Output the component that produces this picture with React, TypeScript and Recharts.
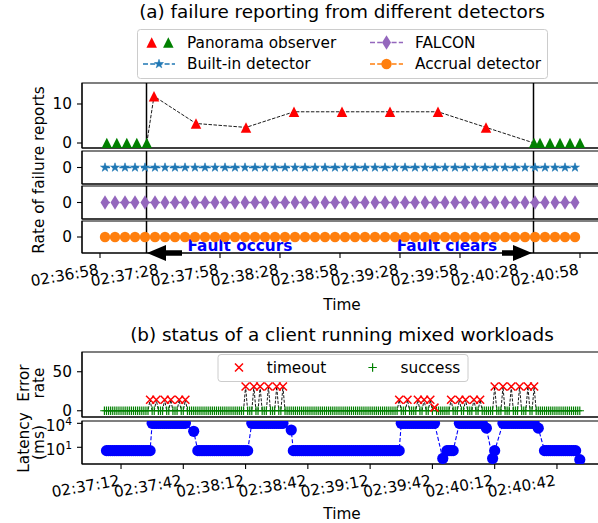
import React from 'react';
import { ComposedChart, Scatter, Line, XAxis, YAxis, ReferenceLine, ReferenceArea } from 'recharts';

const FONT = '"DejaVu Sans", Verdana, sans-serif';
const FS = 15.3;
const CHART_W = 602;
const Y_AXIS_W = 82;

const RED = '#ff0000';
const GREEN = '#008000';
const TAB_BLUE = '#1f77b4';
const TAB_PURPLE = '#9467bd';
const TAB_ORANGE = '#ff7f0e';
const BLUE = '#0000ff';

// ================= Panel (a): seconds after 02:36:58 =================
const aTickSec = [0, 30, 60, 90, 120, 150, 180, 210, 240];
const aTickLabels = ['02:36:58', '02:37:28', '02:37:58', '02:38:28', '02:38:58', '02:39:28', '02:39:58', '02:40:28', '02:40:58'];
const faultOccursSec = 23.25;
const faultClearsSec = 216.75;

const panoramaBeforeSec = [3.4, 8.4, 13.4, 18.4, 23.4];
const panoramaBeforeRate = [0, 0, 0, 0, 0];
const panoramaFaultSec = [27, 48, 73, 97, 121, 145, 169, 193];
const panoramaFaultRate = [12, 5, 4, 8, 8, 8, 8, 4];
const panoramaAfterSec = [217, 220, 225, 230, 235, 240];
const panoramaAfterRate = [0, 0, 0, 0, 0, 0];

const detectorSec = [
  2.5, 7.5, 12.5, 17.5, 22.5, 27.5, 32.5, 37.5, 42.5, 47.5, 52.5, 57.5,
  62.5, 67.5, 72.5, 77.5, 82.5, 87.5, 92.5, 97.5, 102.5, 107.5, 112.5, 117.5,
  122.5, 127.5, 132.5, 137.5, 142.5, 147.5, 152.5, 157.5, 162.5, 167.5, 172.5, 177.5,
  182.5, 187.5, 192.5, 197.5, 202.5, 207.5, 212.5, 217.5, 222.5, 227.5, 232.5, 237.5,
];
const builtinRate = [
  0, 0, 0, 0, 0, 0, 0, 0, 0, 0, 0, 0, 0, 0, 0, 0, 0, 0, 0, 0, 0, 0, 0, 0,
  0, 0, 0, 0, 0, 0, 0, 0, 0, 0, 0, 0, 0, 0, 0, 0, 0, 0, 0, 0, 0, 0, 0, 0,
];
const falconRate = [
  0, 0, 0, 0, 0, 0, 0, 0, 0, 0, 0, 0, 0, 0, 0, 0, 0, 0, 0, 0, 0, 0, 0, 0,
  0, 0, 0, 0, 0, 0, 0, 0, 0, 0, 0, 0, 0, 0, 0, 0, 0, 0, 0, 0, 0, 0, 0, 0,
];
const accrualRate = [
  0, 0, 0, 0, 0, 0, 0, 0, 0, 0, 0, 0, 0, 0, 0, 0, 0, 0, 0, 0, 0, 0, 0, 0,
  0, 0, 0, 0, 0, 0, 0, 0, 0, 0, 0, 0, 0, 0, 0, 0, 0, 0, 0, 0, 0, 0, 0, 0,
];

// ================= Panel (b): one sample per second, seconds after 02:36:58 =================
const bTickSec = [14, 44, 74, 104, 134, 164, 194, 224];
const bTickLabels = ['02:37:12', '02:37:42', '02:38:12', '02:38:42', '02:39:12', '02:39:42', '02:40:12', '02:40:42'];
const clientFirstSec = 6;
// error rate, rows of 10 seconds starting at t = 6
const errorRate = [
  0, 0, 0, 0, 0, 0, 0, 0, 0, 0,
  0, 0, 0, 0, 0, 0, 0, 0, 0, 0,
  0, 0, 14, 0, 0, 14, 0, 0, 0, 14,
  0, 0, 14, 0, 0, 0, 14, 0, 0, 14,
  0, 0, 0, 0, 0, 0, 0, 0, 0, 0,
  0, 0, 0, 0, 0, 0, 0, 0, 0, 0,
  0, 0, 0, 0, 0, 0, 0, 0, 31, 0,
  0, 0, 31, 0, 0, 31, 0, 0, 0, 31,
  0, 0, 0, 31, 0, 0, 31, 0, 0, 0,
  0, 0, 0, 0, 0, 0, 0, 0, 0, 0,
  0, 0, 0, 0, 0, 0, 0, 0, 0, 0,
  0, 0, 0, 0, 0, 0, 0, 0, 0, 0,
  0, 0, 0, 0, 0, 0, 0, 0, 0, 0,
  0, 0, 0, 0, 0, 0, 0, 0, 0, 0,
  0, 0, 14, 0, 0, 0, 14, 0, 0, 0,
  0, 14, 0, 0, 14, 0, 0, 14, 0, 4,
  0, 0, 0, 0, 0, 0, 0, 14, 0, 0,
  0, 14, 0, 0, 14, 0, 0, 0, 14, 0,
  0, 14, 0, 0, 0, 0, 0, 0, 31, 0,
  0, 0, 31, 0, 0, 0, 31, 0, 0, 0,
  31, 0, 0, 0, 31, 0, 0, 31, 0, 0,
  0, 0, 0, 0, 0, 0, 0, 0, 0, 0,
  0, 0, 0, 0, 0, 0, 0, 0, 0, 0,
];
// latency in ms (null = no sample), rows of 10 seconds starting at t = 6
const latencyMs: (number | null)[] = [
  null, 3.8, 3.8, 3.8, 3.8, 3.8, 3.8, 3.8, 3.8, 3.8,
  3.8, 3.8, 3.8, 3.8, 3.8, 3.8, 3.8, 3.8, 3.8, 3.8,
  3.8, 3.8, 3.8, 10000, 10000, 10000, 10000, 10000, 10000, 10000,
  10000, 10000, 10000, 10000, 10000, 10000, 10000, 10000, 10000, 10000,
  null, null, null, 1000, null, 3.8, 3.8, 3.8, 3.8, 3.8,
  3.8, 3.8, 3.8, 3.8, 3.8, 3.8, 3.8, 3.8, 3.8, 3.8,
  3.8, 3.8, 3.8, 3.8, 3.8, 3.8, 3.8, 3.8, 3.8, 3.8,
  null, 10000, 10000, 10000, 10000, 10000, 10000, 10000, 10000, 10000,
  10000, 10000, 10000, 10000, 10000, 10000, 10000, null, null, null,
  1450, 3.8, 3.8, 3.8, 3.8, 3.8, 3.8, 3.8, 3.8, 3.8,
  3.8, 3.8, 3.8, 3.8, 3.8, 3.8, 3.8, 3.8, 3.8, 3.8,
  3.8, 3.8, 3.8, 3.8, 3.8, 3.8, 3.8, 3.8, 3.8, 3.8,
  3.8, 3.8, 3.8, 3.8, 3.8, 3.8, 3.8, 3.8, 3.8, 3.8,
  3.8, 3.8, 3.8, 3.8, 3.8, 3.8, 3.8, 3.8, 3.8, 3.8,
  3.8, 3.8, 3.8, 10000, 10000, 10000, 10000, 10000, 10000, 10000,
  10000, 10000, 10000, 10000, 10000, 10000, 10000, 10000, 10000, 10000,
  null, null, null, 0.4, null, 3.8, 3.8, 3.8, 3.8, null,
  null, 10000, 10000, 10000, 10000, 10000, 10000, 10000, 10000, 10000,
  10000, 10000, 10000, null, 2500, null, null, 0.4, 3.8, null,
  null, null, 10000, 10000, 10000, 10000, 10000, 10000, 10000, 10000,
  10000, 10000, 10000, 10000, 10000, 10000, 10000, 10000, null, 2500,
  null, null, 3.8, 3.8, 3.8, 3.8, 3.8, 3.8, 3.8, 3.8,
  3.8, 3.8, 3.8, 3.8, 3.8, 3.8, 3.8, 3.8, null, 0.28,
];

// ================= derived point lists =================
type Pt = { t: number; v: number | null };
const toPoints = (ts: number[], vs: (number | null)[]): Pt[] => ts.map((t, i) => ({ t, v: vs[i] }));
const perSecond = (first: number, vs: (number | null)[]): Pt[] => vs.map((v, i) => ({ t: first + i, v }));

const panoramaBefore = toPoints(panoramaBeforeSec, panoramaBeforeRate);
const panoramaFault = toPoints(panoramaFaultSec, panoramaFaultRate);
const panoramaAfter = toPoints(panoramaAfterSec, panoramaAfterRate);
const panoramaLine = [panoramaBefore[panoramaBefore.length - 1], ...panoramaFault, panoramaAfter[0]];
const builtinPts = toPoints(detectorSec, builtinRate);
const falconPts = toPoints(detectorSec, falconRate);
const accrualPts = toPoints(detectorSec, accrualRate);

const errorPts = perSecond(clientFirstSec, errorRate);
const timeoutPts = errorPts.filter((p) => (p.v as number) > 0);
const successPts = errorPts.filter((p) => p.v === 0);
const latencyPts = perSecond(clientFirstSec, latencyMs);
const latencyDots = latencyPts.filter((p) => p.v != null);

// ================= marker shapes =================
const TriUp = ({ cx, cy, fill, s = 10.5 }: any) =>
  cx == null ? null : <path d={`M${cx},${cy - s / 2}L${cx + s / 2},${cy + s / 2}L${cx - s / 2},${cy + s / 2}Z`} fill={fill} />;
const starD = (cx: number, cy: number, R: number) => {
  const r = R * 0.381966;
  let d = '';
  for (let i = 0; i < 10; i++) {
    const a = -Math.PI / 2 + (i * Math.PI) / 5;
    const rr = i % 2 === 0 ? R : r;
    d += (i ? 'L' : 'M') + (cx + rr * Math.cos(a)).toFixed(2) + ',' + (cy + rr * Math.sin(a)).toFixed(2);
  }
  return d + 'Z';
};
const Star = ({ cx, cy, fill, R = 4.7 }: any) =>
  cx == null ? null : <path d={starD(cx, cy, R)} fill={fill} stroke={fill} strokeWidth={0.6} strokeLinejoin="round" />;
const ThinDiamond = ({ cx, cy, fill }: any) =>
  cx == null ? null : <path d={`M${cx},${cy - 7.3}L${cx + 4.5},${cy}L${cx},${cy + 7.3}L${cx - 4.5},${cy}Z`} fill={fill} />;
const Dot = ({ cx, cy, fill, r = 5.2 }: any) => (cx == null ? null : <circle cx={cx} cy={cy} r={r} fill={fill} />);
const XMark = ({ cx, cy, color, h = 4 }: any) =>
  cx == null ? null : (
    <path d={`M${cx - h},${cy - h}L${cx + h},${cy + h}M${cx - h},${cy + h}L${cx + h},${cy - h}`} stroke={color} strokeWidth={1.5} fill="none" />
  );
const PlusMark = ({ cx, cy, color, h = 4.2 }: any) =>
  cx == null ? null : (
    <path d={`M${cx - h},${cy}L${cx + h},${cy}M${cx},${cy - h}L${cx},${cy + h}`} stroke={color} strokeWidth={1.2} fill="none" />
  );

// ================= axis ticks =================
const TimeTick = (props: any) => {
  const { x, y, payload, ticks, labels } = props;
  const i = ticks.indexOf(payload.value);
  if (i < 0) return null;
  const ax = x - 0.6;
  const ay = y + 11.4;
  return (
    <text x={ax} y={ay} transform={`rotate(-10 ${ax} ${ay})`} textAnchor="end" fontFamily={FONT} fontSize={FS} fill="#000">
      {labels[i]}
    </text>
  );
};
const LogTick = (props: any) => {
  const { x, y, payload } = props;
  const exp = Math.round(Math.log10(payload.value));
  return (
    <text x={x} y={y + 8} textAnchor="end" fontFamily={FONT} fontSize={FS} fill="#000">
      10<tspan dy={-6.5} fontSize={10.7}>{exp}</tspan>
    </text>
  );
};

const FaultNote = (props: any) => {
  const { viewBox, side, text } = props;
  if (!viewBox) return null;
  const x = viewBox.x;
  const bottom = viewBox.y + viewBox.height;
  const cy = bottom;
  const dir = side === 'left' ? -1 : 1;
  const tip = x + (side === 'left' ? 0.5 : -1.5);
  const headLen = 19;
  const headHalf = 8;
  const bodyHalf = 2.8;
  const total = side === 'left' ? 35 : 30;
  const b = tip - dir * headLen;
  const e = tip - dir * total;
  const d = `M${tip},${cy}L${b},${cy - headHalf}L${b},${cy - bodyHalf}L${e},${cy - bodyHalf}L${e},${cy + bodyHalf}L${b},${cy + bodyHalf}L${b},${cy + headHalf}Z`;
  const tx = side === 'left' ? x + 41 : x - 36.5;
  return (
    <g>
      <path d={d} fill="#000" />
      <text x={tx} y={bottom - 2.5} textAnchor={side === 'left' ? 'start' : 'end'} fontFamily={FONT} fontSize={FS} fontWeight="bold" fill={BLUE}>
        {text}
      </text>
    </g>
  );
};

// ================= generic subplot =================
type SubplotProps = {
  plotTop: number;
  plotBottom: number;
  xAxisH: number;
  xTickSize: number;
  xDomain: [number, number];
  xTicks: number[];
  tickLabels?: string[];
  yDomain: [number, number];
  yTicks: number[];
  yLog?: boolean;
  children?: React.ReactNode;
};

function Subplot(p: SubplotProps) {
  return (
    <div style={{ position: 'absolute', left: 0, top: 0 }}>
      <ComposedChart width={CHART_W} height={p.plotBottom + p.xAxisH} margin={{ top: p.plotTop, right: 0, bottom: 0, left: 0 }}>
        <XAxis
          type="number"
          dataKey="t"
          domain={p.xDomain}
          ticks={p.xTicks}
          interval={0}
          allowDataOverflow
          height={p.xAxisH}
          tickSize={p.xTickSize}
          tickMargin={5}
          axisLine={{ stroke: '#000', strokeWidth: 1.1 }}
          tickLine={{ stroke: '#000', strokeWidth: 1.1 }}
          tick={p.tickLabels ? <TimeTick ticks={p.xTicks} labels={p.tickLabels} /> : false}
        />
        <YAxis
          type="number"
          dataKey="v"
          domain={p.yDomain}
          ticks={p.yTicks}
          interval={0}
          allowDataOverflow
          scale={p.yLog ? 'log' : 'auto'}
          width={Y_AXIS_W}
          tickSize={5}
          tickMargin={5}
          axisLine={{ stroke: '#000', strokeWidth: 1.1 }}
          tickLine={{ stroke: '#000', strokeWidth: 1.1 }}
          tick={p.yLog ? <LogTick /> : { fontFamily: FONT, fontSize: FS, fill: '#000' }}
        />
        <ReferenceArea
          x1={p.xDomain[0]}
          x2={p.xDomain[1]}
          y1={p.yDomain[0]}
          y2={p.yDomain[1]}
          fill="none"
          fillOpacity={0}
          stroke="#000"
          strokeWidth={1.1}
          ifOverflow="visible"
        />
        {p.children}
      </ComposedChart>
    </div>
  );
}

const aXDomain: [number, number] = [-9, 251];
const bXDomain: [number, number] = [-4.8, 245.7];

const faultLines = (withNotes: boolean) => [
  <ReferenceLine
    key="f1"
    x={faultOccursSec}
    stroke="#000"
    strokeWidth={1.5}
    ifOverflow="visible"
    label={withNotes ? <FaultNote side="left" text="Fault occurs" /> : undefined}
  />,
  <ReferenceLine
    key="f2"
    x={faultClearsSec}
    stroke="#000"
    strokeWidth={1.5}
    ifOverflow="visible"
    label={withNotes ? <FaultNote side="right" text="Fault clears" /> : undefined}
  />,
];

// ================= overlay: titles, axis labels, legends =================
function Overlay() {
  const txt = { fontFamily: FONT, fontSize: FS, fill: '#000' } as const;
  return (
    <svg width={598} height={523} style={{ position: 'absolute', left: 0, top: 0, pointerEvents: 'none' }}>
      <text x={342} y={17.5} textAnchor="middle" fontFamily={FONT} fontSize={18.4} fill="#000">
        (a) failure reporting from different detectors
      </text>
      <text x={342} y={341} textAnchor="middle" fontFamily={FONT} fontSize={18.4} fill="#000">
        (b) status of a client running mixed workloads
      </text>
      <text {...txt} x={44} y={170} textAnchor="middle" transform="rotate(-90 44 170)">
        Rate of failure reports
      </text>
      <text {...txt} x={342} y={310} textAnchor="middle">Time</text>
      <text {...txt} x={342} y={518.5} textAnchor="middle">Time</text>
      <text {...txt} x={29} y={383} textAnchor="middle" transform="rotate(-90 29 383)">Error</text>
      <text {...txt} x={44} y={383} textAnchor="middle" transform="rotate(-90 44 383)">rate</text>
      <text {...txt} x={29} y={442.5} textAnchor="middle" transform="rotate(-90 29 442.5)">Latency</text>
      <text {...txt} x={44} y={442.5} textAnchor="middle" transform="rotate(-90 44 442.5)">(ms)</text>

      {/* legend (a) */}
      <rect x={137.5} y={29.5} width={410} height={49} rx={3} fill="#fff" fillOpacity={0.8} stroke="#cccccc" strokeWidth={1} />
      <TriUp cx={151.7} cy={42.5} fill={RED} />
      <TriUp cx={168.3} cy={42.5} fill={GREEN} />
      <text {...txt} x={187} y={47.5}>Panorama observer</text>
      <line x1={370} x2={403} y1={42.5} y2={42.5} stroke={TAB_PURPLE} strokeWidth={1.3} strokeDasharray="5 2.2" />
      <ThinDiamond cx={386.5} cy={42.5} fill={TAB_PURPLE} />
      <text {...txt} x={415} y={47.5}>FALCON</text>
      <line x1={143} x2={175} y1={64} y2={64} stroke={TAB_BLUE} strokeWidth={1.3} strokeDasharray="5 2.2" />
      <Star cx={159} cy={64} fill={TAB_BLUE} />
      <text {...txt} x={187} y={69}>Built-in detector</text>
      <line x1={370} x2={403} y1={64} y2={64} stroke={TAB_ORANGE} strokeWidth={1.3} strokeDasharray="5 2.2" />
      <Dot cx={386.5} cy={64} fill={TAB_ORANGE} />
      <text {...txt} x={415} y={69}>Accrual detector</text>

      {/* legend (b) */}
      <rect x={218} y={354.5} width={250} height={27} rx={3} fill="#fff" fillOpacity={0.8} stroke="#cccccc" strokeWidth={1} />
      <XMark cx={239} cy={367.5} color={RED} />
      <text {...txt} x={266.7} y={372.8}>timeout</text>
      <PlusMark cx={372.6} cy={367.5} color={GREEN} />
      <text {...txt} x={400.5} y={372.8}>success</text>
    </svg>
  );
}

export default function App() {
  return (
    <div style={{ position: 'absolute', left: 0, top: 0, width: 598, height: 523, overflow: 'hidden', background: '#fff' }}>
      {/* (a) subplot 1: Panorama observer */}
      <Subplot plotTop={83} plotBottom={148} xAxisH={8} xTickSize={5} xDomain={aXDomain} xTicks={aTickSec} yDomain={[-1.28, 15.38]} yTicks={[0, 10]}>
        <Scatter data={panoramaBefore} isAnimationActive={false} shape={(q: any) => <TriUp cx={q.cx} cy={q.cy} fill={GREEN} />} />
        <Scatter data={panoramaFault} isAnimationActive={false} shape={(q: any) => <TriUp cx={q.cx} cy={q.cy} fill={RED} />} />
        <Scatter data={panoramaAfter} isAnimationActive={false} shape={(q: any) => <TriUp cx={q.cx} cy={q.cy} fill={GREEN} />} />
        <Line data={panoramaLine} dataKey="v" type="linear" stroke="#000" strokeWidth={0.9} strokeDasharray="3.5 1.5" dot={false} activeDot={false} isAnimationActive={false} />
        {faultLines(false)}
      </Subplot>

      {/* (a) subplot 2: Built-in detector */}
      <Subplot plotTop={151} plotBottom={184} xAxisH={8} xTickSize={5} xDomain={aXDomain} xTicks={aTickSec} yDomain={[-1, 1]} yTicks={[0]}>
        <Line data={builtinPts} dataKey="v" type="linear" stroke={TAB_BLUE} strokeWidth={1.3} strokeDasharray="5 2.2" dot={false} activeDot={false} isAnimationActive={false} />
        <Scatter data={builtinPts} isAnimationActive={false} shape={(q: any) => <Star cx={q.cx} cy={q.cy} fill={TAB_BLUE} />} />
        {faultLines(false)}
      </Subplot>

      {/* (a) subplot 3: FALCON */}
      <Subplot plotTop={186} plotBottom={219} xAxisH={8} xTickSize={5} xDomain={aXDomain} xTicks={aTickSec} yDomain={[-1, 1]} yTicks={[0]}>
        <Line data={falconPts} dataKey="v" type="linear" stroke={TAB_PURPLE} strokeWidth={1.3} strokeDasharray="5 2.2" dot={false} activeDot={false} isAnimationActive={false} />
        <Scatter data={falconPts} isAnimationActive={false} shape={(q: any) => <ThinDiamond cx={q.cx} cy={q.cy} fill={TAB_PURPLE} />} />
        {faultLines(false)}
      </Subplot>

      {/* (a) subplot 4: Accrual detector */}
      <Subplot plotTop={221} plotBottom={253} xAxisH={50} xTickSize={5} xDomain={aXDomain} xTicks={aTickSec} tickLabels={aTickLabels} yDomain={[-1, 1]} yTicks={[0]}>
        <Line data={accrualPts} dataKey="v" type="linear" stroke={TAB_ORANGE} strokeWidth={1.3} strokeDasharray="5 2.2" dot={false} activeDot={false} isAnimationActive={false} />
        <Scatter data={accrualPts} isAnimationActive={false} shape={(q: any) => <Dot cx={q.cx} cy={q.cy} fill={TAB_ORANGE} />} />
        {faultLines(true)}
      </Subplot>

      {/* (b) error rate */}
      <Subplot plotTop={352} plotBottom={417} xAxisH={6} xTickSize={4} xDomain={bXDomain} xTicks={bTickSec} yDomain={[-8, 75.3]} yTicks={[0, 50]}>
        <Scatter data={successPts} isAnimationActive={false} shape={(q: any) => <PlusMark cx={q.cx} cy={q.cy} color={GREEN} />} />
        <Scatter data={timeoutPts} isAnimationActive={false} shape={(q: any) => <XMark cx={q.cx} cy={q.cy} color={RED} />} />
        <Line data={errorPts} dataKey="v" type="linear" stroke="#000" strokeWidth={0.9} strokeDasharray="3 1.5" dot={false} activeDot={false} isAnimationActive={false} />
      </Subplot>

      {/* (b) latency */}
      <Subplot plotTop={421} plotBottom={464} xAxisH={50} xTickSize={5} xDomain={bXDomain} xTicks={bTickSec} tickLabels={bTickLabels} yDomain={[0.081, 19500]} yTicks={[10, 10000]} yLog>
        <Line data={latencyPts} dataKey="v" type="linear" connectNulls stroke={BLUE} strokeWidth={1.1} strokeDasharray="4 2" dot={false} activeDot={false} isAnimationActive={false} />
        <Scatter data={latencyDots} isAnimationActive={false} shape={(q: any) => <Dot cx={q.cx} cy={q.cy} r={5.6} fill={BLUE} />} />
      </Subplot>

      <Overlay />
    </div>
  );
}
